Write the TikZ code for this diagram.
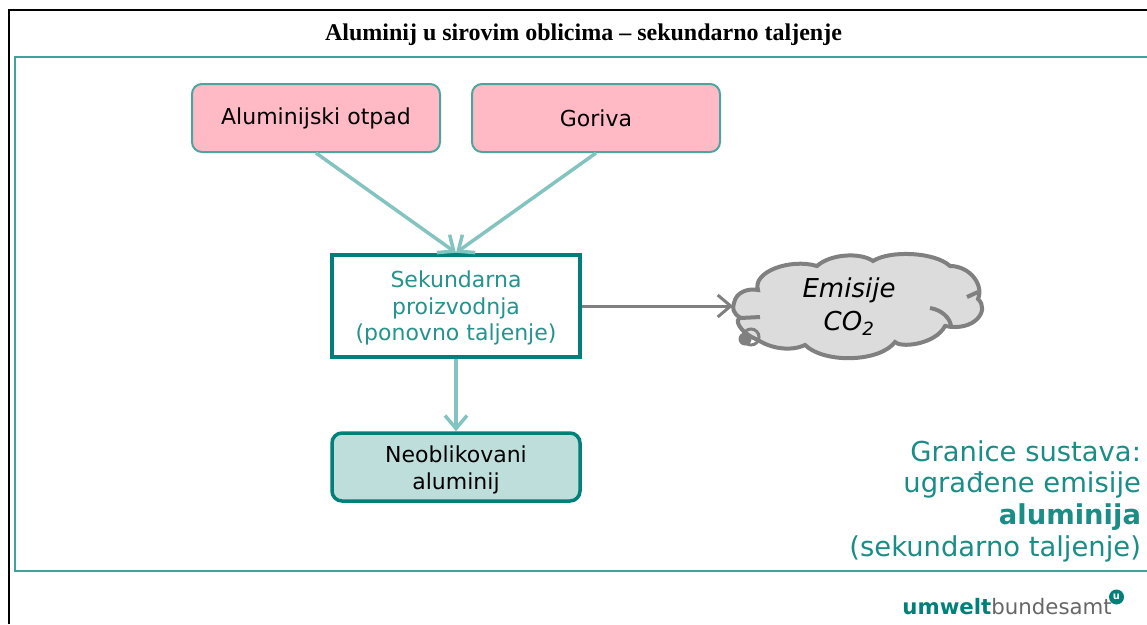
\documentclass[tikz,border=0pt]{standalone}
\usepackage{fontspec}
\setmainfont{DejaVu Sans}
\newfontfamily\titlefont{Liberation Serif}
\usetikzlibrary{arrows.meta}
\definecolor{uba}{RGB}{0,128,120}
\definecolor{ubalight}{RGB}{132,196,192}
\definecolor{ubapale}{RGB}{190,222,220}
\definecolor{rosefill}{RGB}{255,186,198}
\definecolor{cloudfill}{RGB}{220,220,220}
\definecolor{cloudline}{RGB}{128,128,128}
\begin{document}
\begin{tikzpicture}[x=1pt,y=-1pt]
	\tikzstyle{source}=[rectangle,rounded corners=10pt,draw=uba!70,line width=2pt,fill=rosefill,minimum width=248pt,minimum height=68pt,font=\fontsize{22}{26}\selectfont]
	\tikzstyle{process}=[rectangle,draw=uba,line width=4.5pt,fill=white,minimum width=248pt,minimum height=102pt,align=center,text=uba!85,font=\fontsize{22}{26.5}\selectfont]
	\tikzstyle{product}=[rectangle,rounded corners=10pt,draw=uba,line width=3.5pt,fill=ubapale,minimum width=248pt,minimum height=68pt,align=center,font=\fontsize{22}{27}\selectfont]
	\tikzstyle{flow}=[line width=3.5pt,ubalight,-{Straight Barb[length=13pt,width=22pt,line width=3.5pt]}]
	\tikzstyle{emission}=[line width=3pt,cloudline,-{Straight Barb[length=13pt,width=22pt,line width=3pt]}]
	\useasboundingbox (0,0) rectangle (1147,624);
	\draw [black,line width=2.5pt] (9,624) -- (9,10) -- (1147,10);
	\draw [uba!75,line width=2.5pt] (1147,57) -- (15,57) -- (15,571) -- (1147,571);
	\node (title) at (583.5,35) {\titlefont\bfseries\fontsize{24}{28}\selectfont Aluminij u sirovim oblicima – sekundarno taljenje};
	\node (scrap) at (316,118) [source] {Aluminijski otpad};
	\node (fuels) at (596,118) [source] {Goriva};
	\node (melt) at (456,306) [process] {\rule{0pt}{21pt}Sekundarna\\proizvodnja\\(ponovno taljenje)};
	\node (metal) at (456,467) [product] {\rule{0pt}{23pt}Neoblikovani\\aluminij};
	\draw [cloudline,line width=4pt,fill=cloudfill] (734,303) .. controls (736,292) and (748,288) .. (758,290)
		.. controls (752,272) and (790,258) .. (817,266) .. controls (830,254) and (860,252) .. (873,261)
		.. controls (890,250) and (935,252) .. (950,266) .. controls (970,266) and (984,285) .. (978,299)
		.. controls (990,310) and (975,332) .. (945,326) .. controls (935,345) and (900,348) .. (895,342)
		.. controls (880,362) and (825,364) .. (805,345) .. controls (790,352) and (770,348) .. (758,340)
		.. controls (738,332) and (734,318) .. (741,318) .. controls (733,314) and (732,308) .. (734,303) -- cycle;
	\draw [cloudline,line width=4pt] (741,318) -- (760,317);
	\draw [cloudline,line width=4pt] (967,297) -- (978,292);
	\draw [cloudline,line width=4pt] (930,308) .. controls (942,310) and (950,318) .. (951,326);
	\draw [cloudline,line width=3pt] (751,337) circle (8pt);
	\fill [cloudline] (745,339) circle (6.5pt);
	\node (cloud) at (849,307) [align=center,font=\itshape\fontsize{26}{33}\selectfont] {Emisije\\CO\textsubscript{2}};
	\coordinate (cloudtip) at (733,306);
	\draw [flow] (scrap.south) -- (melt.north);
	\draw [flow] (fuels.south) -- (melt.north);
	\draw [flow] (melt) -- (metal);
	\draw [emission] (melt.east) -- (cloudtip);
	\node (bound) at (1144.5,501) [anchor=east,align=right,text=uba!90,font=\fontsize{27.4}{31.7}\selectfont] {Granice sustava:\\ugrađene emisije\\\textbf{aluminija}\\(sekundarno taljenje)};
	\node (logo) at (1112,607) [anchor=east,inner sep=0pt,text=black!60,font=\fontsize{21.3}{25}\selectfont] {\textcolor{uba}{\textbf{umwelt}}bundesamt};
	\node (logomark) at (1116.5,597) [circle,fill=uba,inner sep=0pt,minimum size=15pt,text=white,font=\bfseries\fontsize{10}{10}\selectfont] {u};
\end{tikzpicture}
\end{document}
